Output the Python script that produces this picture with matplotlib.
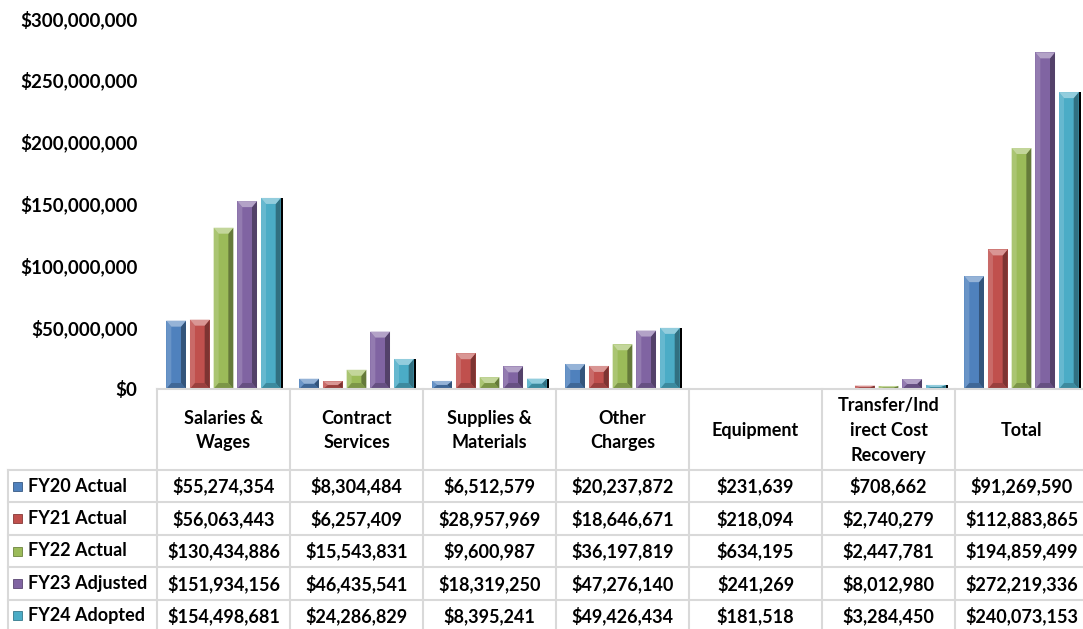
import matplotlib.pyplot as plt
import numpy as np
from matplotlib.patches import Rectangle, Polygon
from matplotlib.colors import to_rgb

plt.rcParams['font.family'] = ['Lato', 'DejaVu Sans']
plt.rcParams['font.weight'] = 'bold'

# Daten
categories = ['Salaries &\nWages', 'Contract\nServices', 'Supplies &\nMaterials', 'Other\nCharges',
              'Equipment', 'Transfer/Ind\nirect Cost\nRecovery', 'Total']
series = ['FY20 Actual', 'FY21 Actual', 'FY22 Actual', 'FY23 Adjusted', 'FY24 Adopted']
fy20 = [55274354, 8304484, 6512579, 20237872, 231639, 708662, 91269590]
fy21 = [56063443, 6257409, 28957969, 18646671, 218094, 2740279, 112883865]
fy22 = [130434886, 15543831, 9600987, 36197819, 634195, 2447781, 194859499]
fy23 = [151934156, 46435541, 18319250, 47276140, 241269, 8012980, 272219336]
fy24 = [154498681, 24286829, 8395241, 49426434, 181518, 3284450, 240073153]
values = [fy20, fy21, fy22, fy23, fy24]
colors = ['#4F81BD', '#C0504D', '#9BBB59', '#8064A2', '#4BACC6']
yticks = [0, 50e6, 100e6, 150e6, 200e6, 250e6, 300e6]

W, H = 1083, 629
fig = plt.figure(figsize=(W / 100, H / 100), dpi=100)

# Pixel-Layout
x0_px, col_px = 157, 133
y0_px, ytop_px = 389, 18
ax = fig.add_axes([x0_px / W, (H - y0_px) / H, 7 * col_px / W, (y0_px - ytop_px) / H])
ax.set_xlim(0, 7)
ax.set_ylim(0, 300e6)
for s in ax.spines.values():
    s.set_visible(False)
ax.set_xticks([])
ax.set_yticks(yticks)
ax.set_yticklabels(['${:,.0f}'.format(v) for v in yticks], fontsize=13.5, fontweight='bold')
ax.tick_params(axis='y', length=0, pad=14)


def shade(c, f):
    r = np.array(to_rgb(c))
    return tuple(r + (1 - r) * f) if f > 0 else tuple(r * (1 + f))


px_y = 300e6 / (y0_px - ytop_px)
px_x = 1.0 / col_px


def bevel_bar(a, x, w, h, c, bx, by):
    a.add_patch(Rectangle((x, 0), w, h, facecolor=c, edgecolor='none'))
    if h <= 0:
        return
    b = min(by, h / 2)
    # linke / rechte Kante
    a.add_patch(Polygon([(x, 0), (x + bx, b), (x + bx, h - b), (x, h)], closed=True,
                        facecolor=shade(c, 0.15), edgecolor='none'))
    a.add_patch(Polygon([(x + w, 0), (x + w - bx, b), (x + w - bx, h - b), (x + w, h)], closed=True,
                        facecolor=shade(c, -0.35), edgecolor='none'))
    # Spitze oben
    a.add_patch(Polygon([(x, h), (x + w, h), (x + w - bx, h - b), (x + bx, h - b)], closed=True,
                        facecolor=shade(c, 0.4), edgecolor='none'))
    a.add_patch(Polygon([(x, 0), (x + w, 0), (x + w - bx, b), (x + bx, b)], closed=True,
                        facecolor=shade(c, -0.2), edgecolor='none'))


step = 0.178
bw = 0.148
for i, (vals, c) in enumerate(zip(values, colors)):
    for j, v in enumerate(vals):
        xc = j + 0.5 + (i - 2) * step
        bevel_bar(ax, xc - bw / 2, bw, v, c, 5 * px_x, 6 * px_y)
        if i == len(values) - 1:
            ax.add_patch(Rectangle((xc + bw / 2, 0), 2.5 * px_x, v, facecolor='black', edgecolor='none'))

# Datentabelle
tab = fig.add_axes([0, 0, 1, 1])
tab.set_xlim(0, W)
tab.set_ylim(H, 0)
tab.axis('off')
tab.patch.set_alpha(0)
lc = '#D9D9D9'
head_bot = 470
row_h = 32.4
row_edges = [head_bot + k * row_h for k in range(len(series) + 1)]
col_edges = [x0_px + k * col_px for k in range(len(categories) + 1)]
tab.plot([x0_px, W], [y0_px, y0_px], color=lc, lw=1.5)
tab.plot([8, W], [head_bot, head_bot], color=lc, lw=1.5)
for ye in row_edges[1:]:
    tab.plot([8, W], [ye, ye], color=lc, lw=1.5)
tab.plot([8, 8], [head_bot, H], color=lc, lw=1.5)
for xe in col_edges:
    tab.plot([xe, xe], [y0_px, H], color=lc, lw=1.5)

for j, cat in enumerate(categories):
    tab.text(col_edges[j] + col_px / 2, (y0_px + head_bot) / 2 + 1, cat, ha='center', va='center',
             fontsize=13, fontweight='bold', linespacing=1.55)

for i, (name, vals, c) in enumerate(zip(series, values, colors)):
    yc = (row_edges[i] + row_edges[i + 1]) / 2
    tab.add_patch(Rectangle((13, yc - 4.5), 9, 9, facecolor=c, edgecolor=shade(c, -0.3), lw=0.6))
    tab.text(28, yc, name, ha='left', va='center', fontsize=13, fontweight='bold')
    for j, v in enumerate(vals):
        tab.text(col_edges[j] + col_px / 2, yc, '${:,.0f}'.format(v), ha='center', va='center',
                 fontsize=13, fontweight='bold')

plt.savefig('out.png', dpi=100)
